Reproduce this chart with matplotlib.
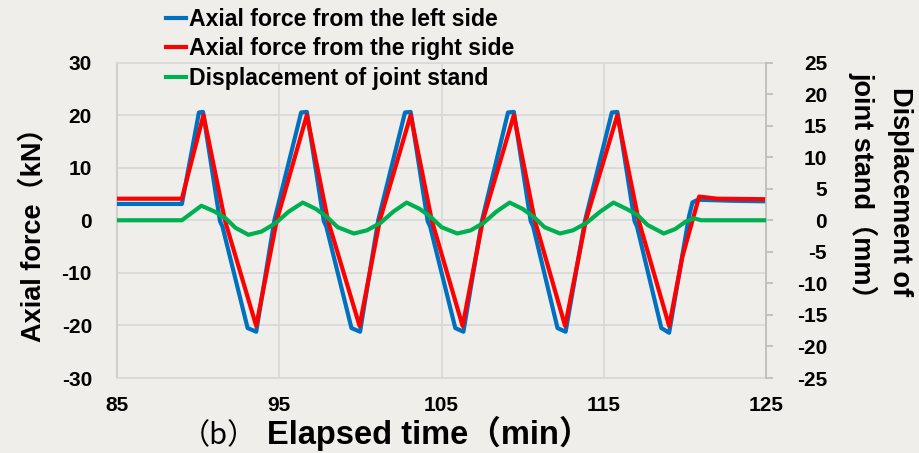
import matplotlib
matplotlib.use('Agg')
import matplotlib.pyplot as plt
from matplotlib import font_manager as fm
from matplotlib.font_manager import FontProperties
from matplotlib.lines import Line2D

# ---------------- data ----------------
left_t = [85, 89.0, 90.05, 90.3, 91.35, 91.5, 93.05, 93.58, 94.7, 96.35,
          96.7, 97.75, 97.9, 99.45, 99.98, 101.1, 102.75,
          103.1, 104.15, 104.3, 105.85, 106.35, 107.5, 109.1,
          109.46, 110.5, 110.65, 112.15, 112.65, 113.85, 115.5,
          115.84, 116.9, 117.05, 118.55, 119.03, 120.25, 120.47, 120.8, 123.0, 125]
left_v = [3.1, 3.1, 20.5, 20.6, -0.2, -1.2, -20.5, -21.2, 0.0, 20.5,
          20.6, -0.2, -1.2, -20.5, -21.2, 0.0, 20.5,
          20.6, -0.2, -1.2, -20.5, -21.2, 0.0, 20.5,
          20.6, -0.2, -1.2, -20.5, -21.2, 0.0, 20.5,
          20.6, -0.2, -1.2, -20.5, -21.4, 0.7, 3.4, 3.9, 3.7, 3.6]

right_t = [85, 89.0, 90.33, 91.65, 93.58, 94.85, 96.7, 98.0, 99.95, 101.2,
           103.1, 104.4, 106.3, 107.55, 109.46, 110.75, 112.62, 113.9,
           115.84, 117.15, 119.03, 119.85, 120.88, 122.0, 125]
right_v = [4.1, 4.1, 20.0, 0.0, -20.1, 0.0, 20.0, 0.0, -20.1, 0.0,
           20.0, 0.0, -20.1, 0.0, 20.0, 0.0, -20.1, 0.0,
           20.0, 0.0, -20.1, -6.9, 4.5, 4.1, 4.0]

disp_t = [85, 89.0, 90.2, 91.0, 91.7, 92.3, 93.1, 93.9, 94.75, 95.6,
          96.45, 97.25, 97.95, 98.6, 99.6, 100.4, 101.25, 102.05,
          102.85, 103.65, 104.35, 105.0, 105.97, 106.8, 107.6, 108.4,
          109.2, 110.0, 110.7, 111.35, 112.3, 113.1, 113.95, 114.8,
          115.6, 116.4, 117.07, 117.7, 118.7, 119.4, 120.06, 120.57, 121.0, 125]
disp_v = [0.0, 0.0, 2.3, 1.4, 0.3, -1.2, -2.3, -1.8, -0.5, 1.4,
          2.8, 1.8, 0.5, -1.1, -2.1, -1.6, -0.4, 1.4,
          2.8, 1.8, 0.5, -1.1, -2.1, -1.6, -0.4, 1.4,
          2.8, 1.8, 0.5, -1.1, -2.1, -1.6, -0.4, 1.4,
          2.8, 1.8, 0.85, -0.75, -2.1, -1.4, -0.2, 0.3, 0.0, 0.0]

x_ticks = [85, 95, 105, 115, 125]
left_ticks = [-30, -20, -10, 0, 10, 20, 30]
right_ticks = [-25, -20, -15, -10, -5, 0, 5, 10, 15, 20, 25]

labels = ["Axial force from the left side",
          "Axial force from the right side",
          "Displacement of joint stand"]

# ---------------- style ----------------
BG = '#EFEEEB'
GRID = '#D9D9D9'
C_BLUE = '#0070C0'
C_RED = '#FF0000'
C_GREEN = '#00B050'

def has_font(name):
    try:
        fm.findfont(FontProperties(family=name), fallback_to_default=False)
        return True
    except Exception:
        return False

LAT = 'Liberation Sans'
NARROW = 'Liberation Sans Narrow' if has_font('Liberation Sans Narrow') else None
FAM = [LAT, 'Noto Sans CJK JP', 'DejaVu Sans']
plt.rcParams['font.family'] = FAM
plt.rcParams['axes.unicode_minus'] = False

W, H = 920, 453
fig = plt.figure(figsize=(W / 100, H / 100), dpi=100, facecolor=BG)
ax = fig.add_axes([117 / W, 1 - 378 / H, (766 - 117) / W, (378 - 62.5) / H])
ax.set_facecolor(BG)
ax2 = ax.twinx()
ax2.patch.set_visible(False)

lw = 3.0
ax.plot(left_t, left_v, color=C_BLUE, lw=lw, solid_joinstyle='round', zorder=3)
ax.plot(right_t, right_v, color=C_RED, lw=lw, solid_joinstyle='round', zorder=4)
ax2.plot(disp_t, disp_v, color=C_GREEN, lw=lw, solid_joinstyle='round', zorder=5)

ax.set_xlim(85, 125)
ax.set_ylim(-30, 30)
ax2.set_ylim(-25, 25)
ax.set_xticks(x_ticks)
ax.set_yticks(left_ticks)
ax2.set_yticks(right_ticks)
ax.grid(True, color=GRID, lw=1.3, zorder=0)
ax.set_axisbelow(True)

for sp in ['top', 'bottom']:
    ax.spines[sp].set_color(GRID)
    ax.spines[sp].set_linewidth(1.3)
ax.spines['left'].set_color('#CFCFCF')
ax.spines['left'].set_linewidth(1.5)
ax.spines['right'].set_visible(False)
for sp in ['top', 'bottom', 'left']:
    ax2.spines[sp].set_visible(False)
ax2.spines['right'].set_color('#BFBFBF')
ax2.spines['right'].set_linewidth(1.3)

tick_fp = dict(family=FAM, weight='bold', size=15)
ax.tick_params(axis='x', length=0, pad=13)
ax.tick_params(axis='y', length=0, pad=18)
ax2.tick_params(axis='y', length=5, width=1.3, color='#BFBFBF', direction='out', pad=39)
for lab in ax.get_xticklabels() + ax.get_yticklabels():
    lab.set_fontproperties(FontProperties(**tick_fp))
for lab in ax2.get_yticklabels():
    lab.set_fontproperties(FontProperties(**tick_fp))
    lab.set_horizontalalignment('right')

# axis labels
fig.text(33 / W, 1 - 228 / H, "Axial force（kN）", rotation=90, ha='center', va='center',
         family=FAM, weight='bold', size=19.5)
fig.text(881 / W, 1 - 192 / H, "Displacement of\njoint stand（mm）", rotation=-90,
         ha='center', va='center', multialignment='center', linespacing=1.4,
         family=FAM, weight='bold', size=19.5)
fig.text(267 / W, 1 - 444 / H, "Elapsed time（min）", ha='left', va='baseline',
         family=FAM, weight='bold', size=23.5)
fig.text(181 / W, 1 - 444 / H, "（b）", ha='left', va='baseline',
         family=['Noto Sans CJK JP', 'DejaVu Sans'], weight='normal', size=21)

# legend
if NARROW:
    leg_fp = FontProperties(family=[NARROW, 'DejaVu Sans'], weight='bold', size=19.5)
else:
    leg_fp = FontProperties(family=[LAT, 'DejaVu Sans'], weight='bold', size=16.6)
handles = [Line2D([], [], color=c, lw=3) for c in (C_BLUE, C_RED, C_GREEN)]
fig.legend(handles, labels, loc='upper left', bbox_to_anchor=(166 / W, 1 - 8 / H),
           bbox_transform=fig.transFigure, frameon=False, borderpad=0,
           borderaxespad=0, handlelength=0.85, handletextpad=0.15,
           labelspacing=0.28, prop=leg_fp)

fig.savefig('out.png', dpi=100, facecolor=BG)
